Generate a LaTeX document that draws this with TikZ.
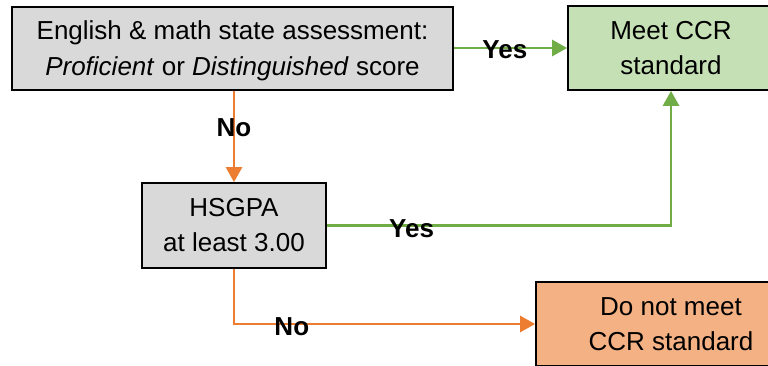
\documentclass[tikz,border=0pt]{standalone}
\usepackage{fontspec}
\setmainfont{Liberation Sans}
\usepackage{tikz}
\usetikzlibrary{arrows.meta, positioning, calc}
\definecolor{boxgray}{RGB}{217, 217, 217}
\definecolor{meetgreen}{RGB}{197, 224, 180}
\definecolor{nomeetorange}{RGB}{244, 177, 131}
\definecolor{yesgreen}{RGB}{112, 173, 71}
\definecolor{noorange}{RGB}{237, 125, 49}

\begin{document}
\begin{tikzpicture}[x=1pt, y=-1pt,
    decision/.style={draw=black, line width=1.8pt, fill=boxgray, inner sep=0pt, align=center,
        font=\fontsize{26}{35}\selectfont},
    outcome/.style={decision},
    yesline/.style={draw=yesgreen, line width=2.8pt, -{Triangle[width=16pt, length=15pt]}},
    noline/.style={draw=noorange, line width=2.8pt, -{Triangle[width=16pt, length=15pt]}},
    answer/.style={font=\fontsize{26}{30}\selectfont\bfseries, text=black, inner sep=0pt}]
    \useasboundingbox (0, 0) rectangle (768, 366);

    % boxes
    \node[decision, minimum width=441pt, minimum height=83pt, text depth=0pt,
        font=\fontsize{26}{36}\selectfont] (assess) at (232.5, 48.5)
        {English \& math state assessment:\\\textit{Proficient} or \textit{Distinguished} score};
    \node[outcome, fill=meetgreen, minimum width=206pt, minimum height=84pt] (meet) at (671, 48)
        {Meet CCR\\standard};
    \node[decision, minimum width=184pt, minimum height=85pt] (gpa) at (234, 225.5)
        {HSGPA\\at least 3.00};
    \node[outcome, fill=nomeetorange, minimum width=270pt, minimum height=84pt] (nomeet) at (671, 324)
        {Do not meet\\CCR standard};

    % connectors
    \draw[yesline] (assess.east |- meet.west) -- node[answer, pos=0.45, yshift=-2pt] {Yes} (meet.west);
    \draw[noline] (gpa.north |- assess.south) -- node[answer, pos=0.40] {No} (gpa.north);
    \draw[yesline] (gpa.east) -| node[answer, pos=0.123, yshift=-3pt] {Yes} (meet.south);
    \draw[noline] (gpa.south) |- node[answer, pos=0.596, yshift=-3pt] {No} (nomeet.west);
\end{tikzpicture}
\end{document}
